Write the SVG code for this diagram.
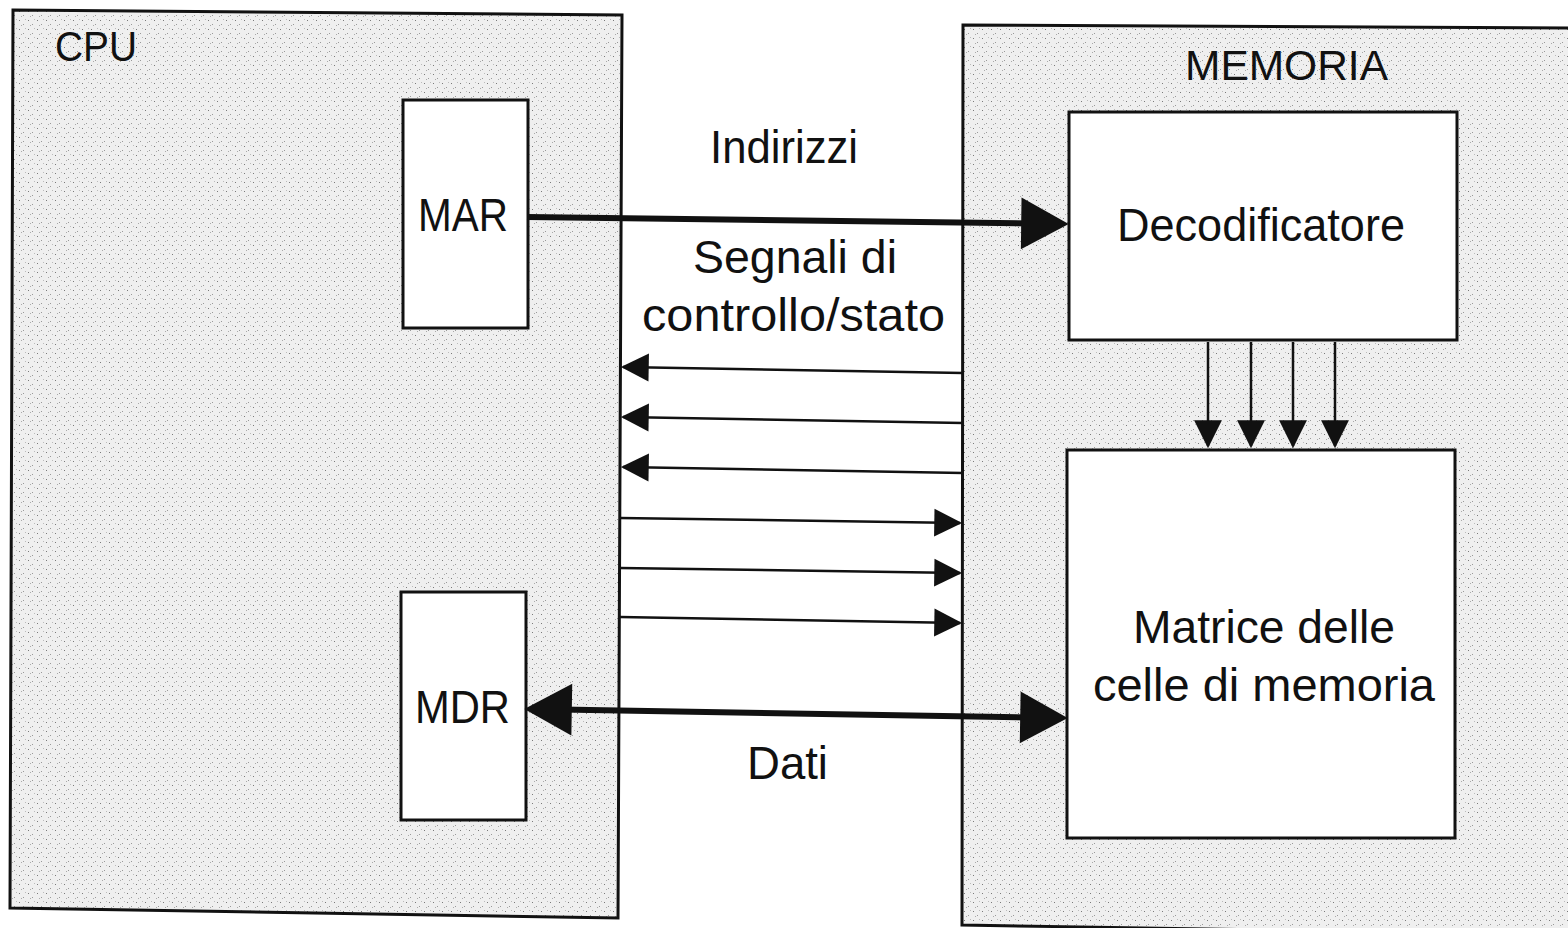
<svg xmlns="http://www.w3.org/2000/svg" width="1568" height="928" viewBox="0 0 1568 928">
<defs>
<pattern id="stipple" width="9" height="9" patternUnits="userSpaceOnUse">
<rect width="9" height="9" fill="#efefef"/>
<rect x="1" y="2" width="1" height="1" fill="#7a7a7a"/>
<rect x="5" y="6" width="1" height="1" fill="#999"/>
<rect x="7" y="1" width="1" height="1" fill="#bbb"/>
<rect x="3" y="7" width="1" height="1" fill="#aaa"/>
</pattern>
<marker id="sm" markerUnits="userSpaceOnUse" markerWidth="30" markerHeight="30" viewBox="0 0 26 28" refX="24" refY="14" orient="auto-start-reverse">
<path d="M0,1 L26,14 L0,27 z" fill="#111"/>
</marker>
<marker id="big" markerUnits="userSpaceOnUse" markerWidth="50" markerHeight="54" viewBox="0 0 44 50" refX="10" refY="25" orient="auto-start-reverse">
<path d="M0,1 L44,25 L0,49 z" fill="#111"/>
</marker>
<style>
.outer{fill:url(#stipple);stroke:#111;stroke-width:3}
.box{fill:#fff;stroke:#111;stroke-width:3}
.lbl{font-family:"Liberation Sans",Arial,sans-serif;font-size:46px;fill:#111}
.thin{stroke:#111;stroke-width:2.5;fill:none}
.thick{stroke:#111;stroke-width:6;fill:none}
</style>
</defs>
<rect width="1568" height="928" fill="#fff"/>

<g id="cpu">
<polygon class="outer" points="13,10 622,15 618,918 10,908"/>
<text class="lbl" x="55" y="61" textLength="82" lengthAdjust="spacingAndGlyphs" style="font-size:42px">CPU</text>
</g>
<g id="memoria">
<polygon class="outer" points="963,25 1575,28 1575,935 962,925"/>
<text class="lbl" x="1185" y="80" textLength="203" lengthAdjust="spacingAndGlyphs" style="font-size:43px">MEMORIA</text>
</g>
<g id="mar">
<rect class="box" x="403" y="100" width="125" height="228"/>
<text class="lbl" x="418" y="231" textLength="90" lengthAdjust="spacingAndGlyphs">MAR</text>
</g>
<g id="mdr">
<rect class="box" x="401" y="592" width="125" height="228"/>
<text class="lbl" x="415" y="723" textLength="95" lengthAdjust="spacingAndGlyphs">MDR</text>
</g>
<g id="decodificatore">
<rect class="box" x="1069" y="112" width="388" height="228"/>
<text class="lbl" x="1117" y="241" textLength="288" lengthAdjust="spacingAndGlyphs">Decodificatore</text>
</g>
<g id="matrice">
<rect class="box" x="1067" y="450" width="388" height="388"/>
<text class="lbl" x="1133" y="643" textLength="262" lengthAdjust="spacingAndGlyphs">Matrice delle</text>
<text class="lbl" x="1093" y="701" textLength="342" lengthAdjust="spacingAndGlyphs">celle di memoria</text>
</g>

<g id="labels">
<text class="lbl" x="710" y="163" textLength="148" lengthAdjust="spacingAndGlyphs">Indirizzi</text>
<text class="lbl" x="693" y="273" textLength="204" lengthAdjust="spacingAndGlyphs">Segnali di</text>
<text class="lbl" x="642" y="331" textLength="303" lengthAdjust="spacingAndGlyphs">controllo/stato</text>
<text class="lbl" x="747" y="779" textLength="81" lengthAdjust="spacingAndGlyphs">Dati</text>
</g>

<g id="connectors">
<line class="thick" x1="527" y1="217" x2="1032" y2="223.5" marker-end="url(#big)"/>
<line class="thick" x1="561" y1="709.5" x2="1031" y2="717.5" marker-start="url(#big)" marker-end="url(#big)"/>
<line class="thin" x1="963" y1="373" x2="623" y2="367" marker-end="url(#sm)"/>
<line class="thin" x1="963" y1="423" x2="623" y2="417" marker-end="url(#sm)"/>
<line class="thin" x1="963" y1="473" x2="623" y2="467" marker-end="url(#sm)"/>
<line class="thin" x1="620" y1="518" x2="960" y2="523" marker-end="url(#sm)"/>
<line class="thin" x1="620" y1="568" x2="960" y2="573" marker-end="url(#sm)"/>
<line class="thin" x1="620" y1="617" x2="960" y2="623" marker-end="url(#sm)"/>
<line class="thin" x1="1208" y1="342" x2="1208" y2="446" marker-end="url(#sm)"/>
<line class="thin" x1="1251" y1="342" x2="1251" y2="446" marker-end="url(#sm)"/>
<line class="thin" x1="1293" y1="342" x2="1293" y2="446" marker-end="url(#sm)"/>
<line class="thin" x1="1335" y1="342" x2="1335" y2="446" marker-end="url(#sm)"/>
</g>
</svg>
